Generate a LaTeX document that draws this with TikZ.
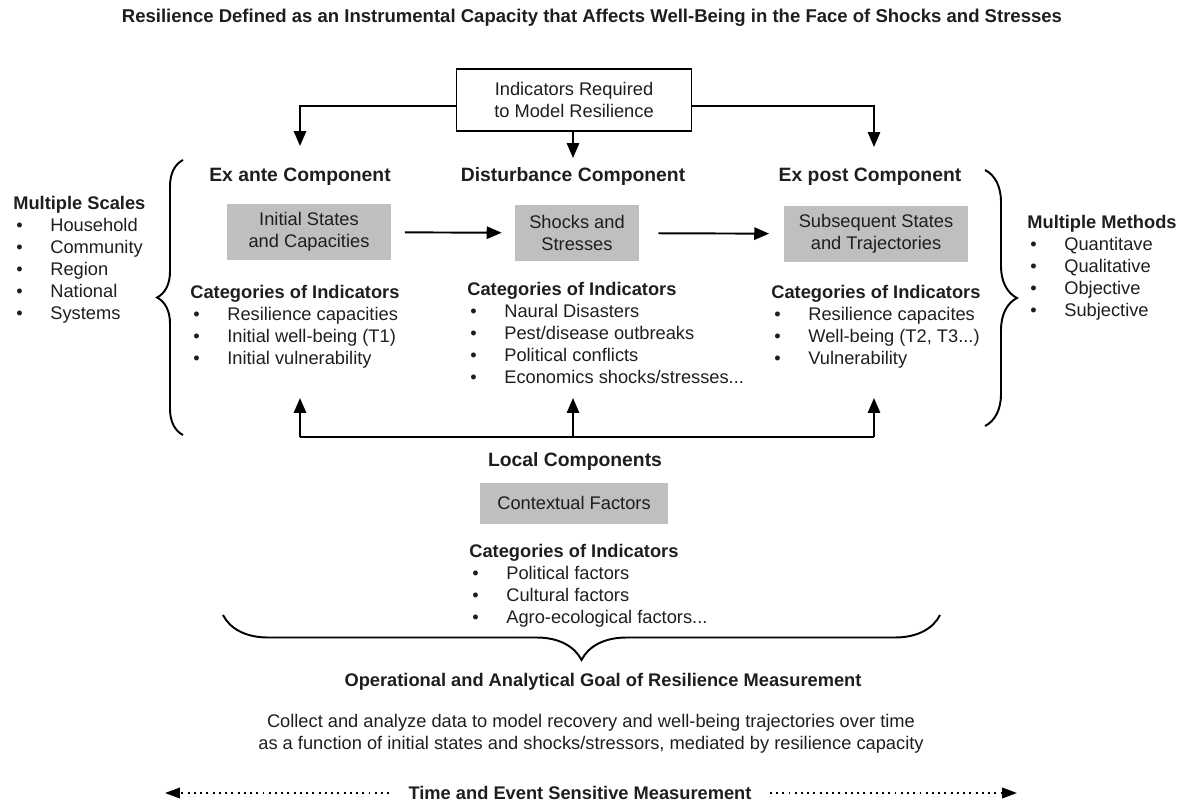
\documentclass[tikz,border=0pt]{standalone}
\usepackage{fontspec}
\setmainfont{Liberation Sans}
\usetikzlibrary{arrows.meta,decorations.pathreplacing}
\pgfdeclarelayer{nodelayer}
\pgfdeclarelayer{edgelayer}
\pgfsetlayers{edgelayer,nodelayer,main}
\definecolor{boxgrey}{RGB}{191,191,191}
\definecolor{ink}{RGB}{30,30,30}
\newcommand{\sz}{\fontsize{10.4}{12.5}\selectfont}
\newcommand{\hsz}{\fontsize{11}{13}\selectfont}
\newcommand{\tsz}{\fontsize{10.55}{12.5}\selectfont}
\newcommand{\bul}{\hspace*{0.06cm}\makebox[0.68cm][l]{\textbullet}}
\tikzstyle{none}=[fill=none, draw=none, shape=circle, scale=0]
\tikzstyle{plain box}=[fill=white, draw=black, line width=0.9pt, minimum width=4.7cm, minimum height=1.24cm, align=center, font=\sz, text=ink]
\tikzstyle{grey box}=[fill=boxgrey, draw=none, minimum height=1.14cm, align=center, font=\sz, text=ink]
\tikzstyle{heading}=[font=\hsz\bfseries, text=ink, inner sep=0pt]
\tikzstyle{title}=[font=\sz\bfseries, text=ink, inner sep=0pt]
\tikzstyle{text block}=[font=\sz, text=ink, align=center, inner sep=0pt]
\tikzstyle{list}=[font=\sz, text=ink, align=left, anchor=north west, inner sep=0pt]
\tikzstyle{arrow edge}=[draw=black, line width=1.1pt, -{Triangle[length=8.5pt, width=7pt]}]
\tikzstyle{line edge}=[draw=black, line width=1.1pt]
\tikzstyle{brace edge}=[draw=black, line width=1.1pt, decorate]
\tikzstyle{dots edge}=[draw=black, line width=1.1pt, dash pattern=on 1.1pt off 2.45pt, -{Triangle[length=8.5pt, width=6pt]}]

\begin{document}
\begin{tikzpicture}[x=0.02cm, y=-0.02cm]
	\useasboundingbox (0, 0) rectangle (1183, 801);
	\begin{pgfonlayer}{nodelayer}
		\node [style=title, font=\tsz\bfseries] (0) at (592, 18) {Resilience Defined as an Instrumental Capacity that Affects Well-Being in the Face of Shocks and Stresses};
		\node [style=plain box] (1) at (574, 100) {Indicators Required\\to Model Resilience};
		\node [style=heading] (2) at (300, 177) {Ex ante Component};
		\node [style=heading] (3) at (573, 177) {Disturbance Component};
		\node [style=heading] (4) at (870, 177) {Ex post Component};
		\node [style=grey box, minimum width=3.3cm] (5) at (309, 232) {Initial States\\and Capacities};
		\node [style=grey box, minimum width=2.48cm] (6) at (577, 233) {Shocks and\\Stresses};
		\node [style=grey box, minimum width=3.7cm] (7) at (876, 234) {Subsequent States\\and Trajectories};
		\node [style=list] (8) at (190, 285) {\textbf{Categories of Indicators}\\\bul Resilience capacities\\\bul Initial well-being (T1)\\\bul Initial vulnerability};
		\node [style=list] (9) at (467, 282) {\textbf{Categories of Indicators}\\\bul Naural Disasters\\\bul Pest/disease outbreaks\\\bul Political conflicts\\\bul Economics shocks/stresses...};
		\node [style=list] (10) at (771, 285) {\textbf{Categories of Indicators}\\\bul Resilience capacites\\\bul Well-being (T2, T3...)\\\bul Vulnerability};
		\node [style=list] (11) at (13, 196) {\textbf{Multiple Scales}\\\bul Household\\\bul Community\\\bul Region\\\bul National\\\bul Systems};
		\node [style=list] (12) at (1027, 215) {\textbf{Multiple Methods}\\\bul Quantitave\\\bul Qualitative\\\bul Objective\\\bul Subjective};
		\node [style=heading] (13) at (575, 461) {Local Components};
		\node [style=grey box, minimum width=3.76cm, minimum height=0.82cm] (14) at (574, 503) {Contextual Factors};
		\node [style=list] (15) at (469, 544) {\textbf{Categories of Indicators}\\\bul Political factors\\\bul Cultural factors\\\bul Agro-ecological factors...};
		\node [style=title] (16) at (603, 682) {Operational and Analytical Goal of Resilience Measurement};
		\node [style=text block] (17) at (591, 734) {Collect and analyze data to model recovery and well-being trajectories over time\\as a function of initial states and shocks/stressors, mediated by resilience capacity};
		\node [style=title] (18) at (580, 793) {Time and Event Sensitive Measurement};
		\node [style=none] (19) at (165, 793) {};
		\node [style=none] (20) at (1017, 793) {};
		\node [style=none] (21) at (300, 146) {};
		\node [style=none] (22) at (573, 158) {};
		\node [style=none] (23) at (874, 147) {};
		\node [style=none] (24) at (300, 398) {};
		\node [style=none] (25) at (573, 398) {};
		\node [style=none] (26) at (874, 398) {};
		\node [style=none] (27) at (300, 437) {};
		\node [style=none] (28) at (874, 437) {};
		\node [style=none] (29) at (183, 435) {};
		\node [style=none] (30) at (183, 160) {};
		\node [style=none] (31) at (985, 170) {};
		\node [style=none] (32) at (985, 426) {};
		\node [style=none] (33) at (940, 615) {};
		\node [style=none] (34) at (223, 615) {};
	\end{pgfonlayer}
	\begin{pgfonlayer}{edgelayer}
		\draw [style=arrow edge] ([yshift=-0.12cm]1.west) -| (21.center);
		\draw [style=arrow edge] (1.south -| 22) -- (22.center);
		\draw [style=arrow edge] ([yshift=-0.12cm]1.east) -| (23.center);
		\draw [style=arrow edge, shorten <=0.26cm, shorten >=0.26cm] (5) -- (6);
		\draw [style=arrow edge, shorten <=0.38cm, shorten >=0.28cm] (6) -- (7);
		\draw [style=line edge] (27.center) -- (28.center);
		\draw [style=arrow edge] (27.center) -- (24.center);
		\draw [style=arrow edge] (27.center -| 25) -- (25.center);
		\draw [style=arrow edge] (28.center) -- (26.center);
		\draw [style=brace edge, decoration={brace, amplitude=0.52cm}] (29.center) -- (30.center);
		\draw [style=brace edge, decoration={brace, amplitude=0.64cm}] (31.center) -- (32.center);
		\draw [style=brace edge, decoration={brace, amplitude=0.9cm}] (33.center) -- (34.center);
		\draw [style=dots edge, shorten <=0.38cm] (18) -- (19.center);
		\draw [style=dots edge, shorten <=0.36cm] (18) -- (20.center);
	\end{pgfonlayer}
\end{tikzpicture}
\end{document}
